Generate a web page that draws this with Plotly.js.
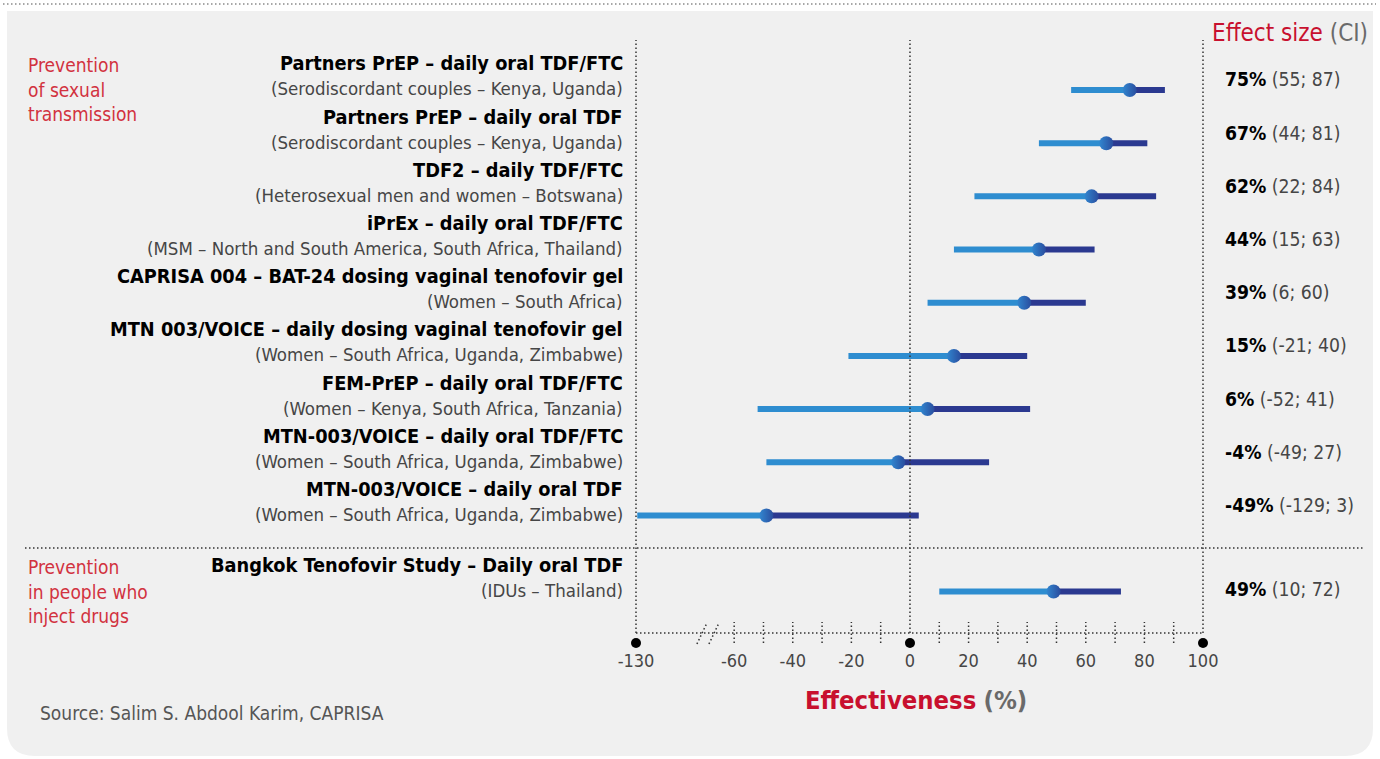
<!DOCTYPE html>
<html>
<head>
<meta charset="utf-8">
<script src="https://cdn.plot.ly/plotly-3.0.1.min.js"></script>
<style>
  html, body { margin: 0; padding: 0; background: #ffffff; }
  #chart { width: 1380px; height: 759px; }
</style>
</head>
<body>
<div id="chart"></div>
<script>
// ---------------- DATA ----------------
const studyTitles = [
  "Partners PrEP – daily oral TDF/FTC",
  "Partners PrEP – daily oral TDF",
  "TDF2 – daily TDF/FTC",
  "iPrEx – daily oral TDF/FTC",
  "CAPRISA 004 – BAT-24 dosing vaginal tenofovir gel",
  "MTN 003/VOICE – daily dosing vaginal tenofovir gel",
  "FEM-PrEP – daily oral TDF/FTC",
  "MTN-003/VOICE – daily oral TDF/FTC",
  "MTN-003/VOICE – daily oral TDF",
  "Bangkok Tenofovir Study – Daily oral TDF"
];
const studyPopulations = [
  "(Serodiscordant couples – Kenya, Uganda)",
  "(Serodiscordant couples – Kenya, Uganda)",
  "(Heterosexual men and women – Botswana)",
  "(MSM – North and South America, South Africa, Thailand)",
  "(Women – South Africa)",
  "(Women – South Africa, Uganda, Zimbabwe)",
  "(Women – Kenya, South Africa, Tanzania)",
  "(Women – South Africa, Uganda, Zimbabwe)",
  "(Women – South Africa, Uganda, Zimbabwe)",
  "(IDUs – Thailand)"
];
const effectSize = [75, 67, 62, 44, 39, 15, 6, -4, -49, 49];
const ciLow      = [55, 44, 22, 15, 6, -21, -52, -49, -129, 10];
const ciHigh     = [87, 81, 84, 63, 60, 40, 41, 27, 3, 72];
const studyGroup = [0, 0, 0, 0, 0, 0, 0, 0, 0, 1];
const groupLabels = ["Prevention<br>of sexual<br>transmission", "Prevention<br>in people who<br>inject drugs"];
const majorTicks = [-130, -60, -40, -20, 0, 20, 40, 60, 80, 100];
const minorTicks = [-50, -30, -10, 10, 30, 50, 70, 90];
const refLines = [-130, 0, 100];
const axisTitle = "Effectiveness";
const axisUnit = "(%)";
const effectHeader = "Effect size";
const effectHeaderCI = "(CI)";
const sourceText = "Source: Salim S. Abdool Karim, CAPRISA";

// ---------------- SCALE (broken axis) ----------------
const BREAK_AT = -66, COMPRESS = 0.4297;
function tx(v) { return v >= BREAK_AT ? v : BREAK_AT + (v - BREAK_AT) * COMPRESS; }
const XR = [tx(-130), 100];

// ---------------- LAYOUT GEOMETRY ----------------
const W = 1380, H = 759;
const ML = 636, MR = 177, MT = 40, MB = 126;
const PW = W - ML - MR, PH = H - MT - MB;
const px2x = p => (p - ML) / PW;
const py2y = p => (H - MB - p) / PH;
const xp = v => (tx(v) - XR[0]) / (XR[1] - XR[0]);   // axis value -> paper x
const xpt = t => (t - XR[0]) / (XR[1] - XR[0]);      // transformed value -> paper x

const FONT = "'Liberation Sans Narrow', 'Arial Narrow', 'DejaVu Sans Condensed', 'Roboto Condensed', sans-serif";
const RED = "#c8102e", GROUPRED = "#d2323f", GREY = "#464646";
const LIGHTBLUE = "#2e8dd0", DARKBLUE = "#2b3990";

const groupGap = 0.43;
const rowPos = studyTitles.map((_, i) => i + studyGroup[i] * groupGap);

// ---------------- TRACES ----------------
const lx = [], ly = [], dx = [], dy = [];
for (let i = 0; i < effectSize.length; i++) {
  lx.push(tx(ciLow[i]), tx(effectSize[i]), null); ly.push(rowPos[i], rowPos[i], null);
  dx.push(tx(effectSize[i]), tx(ciHigh[i]), null); dy.push(rowPos[i], rowPos[i], null);
}
const traces = [
  { type: 'scatter', mode: 'lines', x: lx, y: ly, line: { color: LIGHTBLUE, width: 6 }, hoverinfo: 'skip', showlegend: false },
  { type: 'scatter', mode: 'lines', x: dx, y: dy, line: { color: DARKBLUE, width: 6 }, hoverinfo: 'skip', showlegend: false },
  { type: 'scatter', mode: 'markers', x: effectSize.map(tx), y: rowPos, cliponaxis: false,
    marker: { size: 14, color: '#3186cf', gradient: { type: 'horizontal', color: '#2a4c9e' }, line: { width: 0 } },
    hoverinfo: 'skip', showlegend: false }
];

// ---------------- SHAPES ----------------
const DOT = '1.5px,2.5px';
const shapes = [];
const R = 28;
shapes.push({
  type: 'path', xref: 'paper', yref: 'paper', layer: 'below',
  path: `M ${px2x(7)},${py2y(11)} L ${px2x(1373)},${py2y(11)} L ${px2x(1373)},${py2y(756 - R)} ` +
        `Q ${px2x(1373)},${py2y(756)} ${px2x(1373 - R)},${py2y(756)} L ${px2x(7 + R)},${py2y(756)} ` +
        `Q ${px2x(7)},${py2y(756)} ${px2x(7)},${py2y(756 - R)} Z`,
  fillcolor: '#f0f0f0', line: { width: 0 }
});
shapes.push({ type: 'line', xref: 'paper', yref: 'paper', x0: px2x(3), x1: px2x(1376), y0: py2y(4), y1: py2y(4),
  line: { color: '#8a8a8a', width: 1.3, dash: DOT } });
shapes.push({ type: 'line', xref: 'paper', yref: 'paper', x0: px2x(25), x1: px2x(1364), y0: py2y(548), y1: py2y(548),
  line: { color: '#333', width: 1.5, dash: DOT } });
shapes.push({ type: 'line', xref: 'paper', yref: 'paper', x0: xp(-130), x1: xp(100), y0: 0, y1: 0,
  line: { color: '#333', width: 1.5, dash: DOT } });
refLines.forEach(v => {
  shapes.push({ type: 'line', xref: 'paper', yref: 'paper', x0: xp(v), x1: xp(v), y0: 0, y1: 1,
    line: { color: '#333', width: 1.5, dash: DOT } });
  shapes.push({ type: 'circle', xref: 'paper', yref: 'paper', xsizemode: 'pixel', ysizemode: 'pixel',
    xanchor: xp(v), yanchor: 0, x0: -5, x1: 5, y0: -15, y1: -5,
    fillcolor: '#000', line: { width: 0 } });
});
majorTicks.concat(minorTicks).filter(v => refLines.indexOf(v) < 0).forEach(v => {
  shapes.push({ type: 'line', xref: 'paper', yref: 'paper', ysizemode: 'pixel', yanchor: 0,
    x0: xp(v), x1: xp(v), y0: -10, y1: 11, line: { color: '#333', width: 1.5, dash: DOT } });
});
[[-72.7, -69.3], [-68.6, -65.2]].forEach(b => {
  shapes.push({ type: 'line', xref: 'paper', yref: 'paper', ysizemode: 'pixel', yanchor: 0,
    x0: xpt(b[0]), x1: xpt(b[1]), y0: -11, y1: 10, line: { color: '#333', width: 1.5, dash: DOT } });
});

// ---------------- ANNOTATIONS ----------------
const ann = [];
for (let i = 0; i < studyTitles.length; i++) {
  ann.push({ xref: 'paper', yref: 'y', x: px2x(625), y: rowPos[i], xanchor: 'right', yanchor: 'middle',
    yshift: 26, showarrow: false, text: studyTitles[i],
    font: { family: FONT, size: 19.8, color: '#000', weight: 'bold' } });
  ann.push({ xref: 'paper', yref: 'y', x: px2x(625), y: rowPos[i], xanchor: 'right', yanchor: 'middle',
    yshift: 1, showarrow: false, text: studyPopulations[i],
    font: { family: FONT, size: 18.5, color: GREY } });
  ann.push({ xref: 'paper', yref: 'y', x: px2x(1223), y: rowPos[i], xanchor: 'left', yanchor: 'middle',
    yshift: studyGroup[i] === 0 ? 10 : 2, showarrow: false,
    text: '<b>' + effectSize[i] + '%</b> <span style="color:' + GREY + '">(' + ciLow[i] + '; ' + ciHigh[i] + ')</span>',
    font: { family: FONT, size: 19.2, color: '#000' } });
}
groupLabels.forEach((g, gi) => {
  const first = studyGroup.indexOf(gi);
  ann.push({ xref: 'paper', yref: 'y', x: px2x(26), y: rowPos[first], xanchor: 'left', yanchor: 'middle', align: 'left',
    showarrow: false, text: g, font: { family: FONT, size: 19, color: GROUPRED } });
});
ann.push({ xref: 'paper', yref: 'paper', x: px2x(1210), y: py2y(33), xanchor: 'left', yanchor: 'middle', showarrow: false,
  text: effectHeader + ' <span style="color:#6a6a6a">' + effectHeaderCI + '</span>',
  font: { family: FONT, size: 24, color: RED } });
ann.push({ xref: 'paper', yref: 'paper', x: px2x(916), y: py2y(700), xanchor: 'center', yanchor: 'middle', showarrow: false,
  text: '<b>' + axisTitle + '</b> <b><span style="color:#6a6a6a">' + axisUnit + '</span></b>',
  font: { family: FONT, size: 25.4, color: RED } });
ann.push({ xref: 'paper', yref: 'paper', x: px2x(38), y: py2y(713), xanchor: 'left', yanchor: 'middle', showarrow: false,
  text: sourceText, font: { family: FONT, size: 19, color: '#555' } });

const layout = {
  width: W, height: H,
  margin: { l: ML, r: MR, t: MT, b: MB, pad: 0 },
  paper_bgcolor: '#ffffff', plot_bgcolor: 'rgba(0,0,0,0)',
  showlegend: false,
  xaxis: {
    range: XR, autorange: false, fixedrange: true,
    showgrid: false, zeroline: false, showline: false,
    tickvals: majorTicks.map(tx), ticktext: majorTicks.map(String),
    ticks: '', ticklabelstandoff: 15,
    tickfont: { family: FONT, size: 18, color: GREY }
  },
  yaxis: { range: [10.21, -0.94], autorange: false, visible: false, fixedrange: true },
  shapes: shapes,
  annotations: ann
};

Plotly.newPlot('chart', traces, layout, { displayModeBar: false, staticPlot: true });
</script>
</body>
</html>
